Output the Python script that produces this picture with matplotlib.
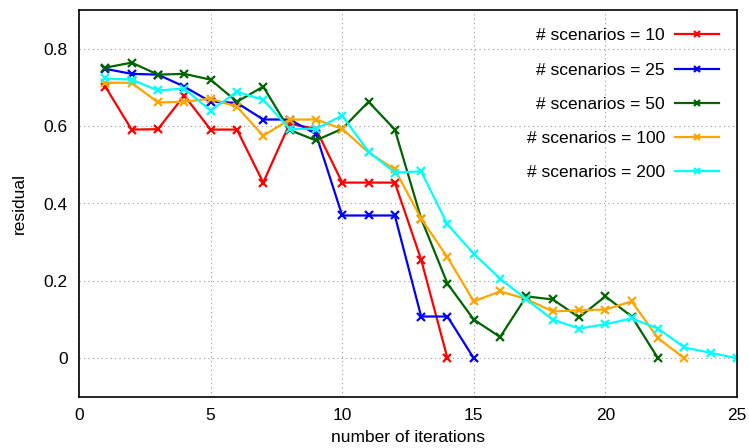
import matplotlib
matplotlib.use("Agg")
import matplotlib.pyplot as plt

plt.rcParams['font.family'] = ['Liberation Sans', 'DejaVu Sans']

labels = ["# scenarios = 10", "# scenarios = 25", "# scenarios = 50",
          "# scenarios = 100", "# scenarios = 200"]
colors = ["#ff0000", "#0000ff", "#006400", "#ffa500", "#00ffff"]

s10 = [0.702, 0.591, 0.592, 0.679, 0.591, 0.591, 0.454, 0.606, 0.593, 0.454,
       0.454, 0.454, 0.255, 0.0]
s25 = [0.748, 0.735, 0.733, 0.702, 0.663, 0.660, 0.617, 0.617, 0.580, 0.369,
       0.369, 0.369, 0.108, 0.108, 0.0]
s50 = [0.751, 0.764, 0.733, 0.735, 0.720, 0.663, 0.702, 0.590, 0.563, 0.593,
       0.663, 0.591, 0.361, 0.193, 0.100, 0.055, 0.160, 0.152, 0.106, 0.160,
       0.108, 0.0]
s100 = [0.712, 0.712, 0.661, 0.663, 0.671, 0.650, 0.575, 0.617, 0.617, 0.593,
        0.532, 0.488, 0.361, 0.261, 0.147, 0.173, 0.153, 0.121, 0.124, 0.126,
        0.147, 0.052, 0.0]
s200 = [0.723, 0.720, 0.692, 0.697, 0.640, 0.689, 0.668, 0.593, 0.593, 0.627,
        0.534, 0.480, 0.483, 0.346, 0.270, 0.206, 0.152, 0.100, 0.077, 0.088,
        0.103, 0.077, 0.028, 0.014, 0.0]
series = [s10, s25, s50, s100, s200]

xticks = [0, 5, 10, 15, 20, 25]
yticks = [0, 0.2, 0.4, 0.6, 0.8]
yticklabels = ["0", "0.2", "0.4", "0.6", "0.8"]

fs = 12.5

fig = plt.figure(figsize=(7.49, 4.48), dpi=100)
ax = fig.add_axes([79/749, 51/448, (737-79)/749, (397-10)/448])

for lab, col, ys in zip(labels, colors, series):
    xs = list(range(1, len(ys) + 1))
    ax.plot(xs, ys, color=col, lw=1.6, marker='x', ms=6, mew=1.6, label=lab)

ax.set_xlim(0, 25)
ax.set_ylim(-0.1, 0.9)
ax.set_xticks(xticks)
ax.set_xticklabels([str(t) for t in xticks])
ax.set_yticks(yticks)
ax.set_yticklabels(yticklabels)
ax.tick_params(length=0, labelsize=fs, pad=8)
ax.grid(True, linestyle=(0, (1, 3)), color='#999999', lw=0.8)
for sp in ax.spines.values():
    sp.set_linewidth(1.2)
ax.set_xlabel("number of iterations", fontsize=fs, labelpad=5)
ax.set_ylabel("residual", fontsize=fs, labelpad=12)

leg = ax.legend(loc='upper right', frameon=False, markerfirst=False,
                fontsize=fs, handlelength=2.5, labelspacing=1.1,
                handletextpad=0.6, markerscale=0.7, borderaxespad=0.65)
for t in leg.get_texts():
    t.set_ha('right')
leg._legend_box.align = "right"

fig.savefig("out.png", dpi=100)
